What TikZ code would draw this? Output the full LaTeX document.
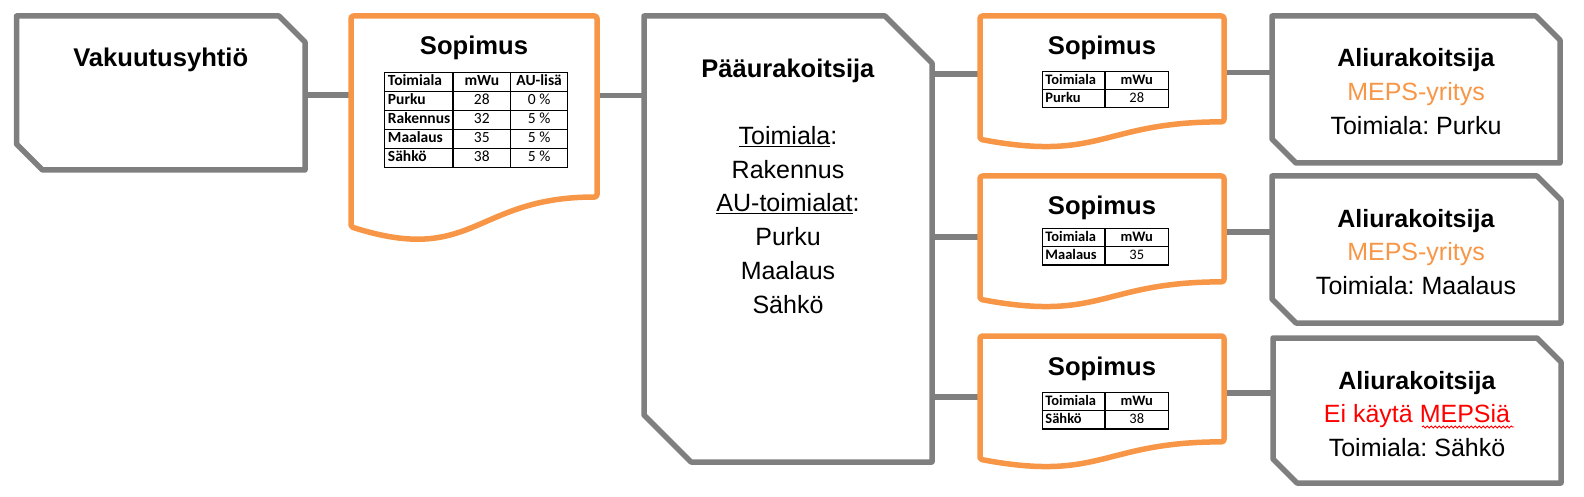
\documentclass[tikz,border=0pt]{standalone}
\usepackage{fontspec}
\setmainfont{Liberation Sans}
\newfontfamily\calibri{Carlito}
\usepackage{array}
\usepackage{xcolor}
\usepackage{tikz}
\usetikzlibrary{calc,decorations.pathmorphing}
\definecolor{MepsGray}{HTML}{7F7F7F}
\definecolor{MepsOrange}{HTML}{F79646}
\definecolor{MepsRed}{HTML}{FF0000}
\frenchspacing
\setlength{\tabcolsep}{2.5pt}
\setlength{\arrayrulewidth}{1.1pt}
\newcolumntype{B}[1]{>{\rule[-5pt]{0pt}{16pt}\bfseries}p{#1}}
\newcolumntype{S}[1]{>{\rule[-4.5pt]{0pt}{14.5pt}\bfseries}p{#1}}
\newcolumntype{C}[1]{>{\centering\arraybackslash}p{#1}}
\tikzset{
  box/.style={draw=none,inner sep=0pt,outer sep=0pt,anchor=north west},
  frame/.style={draw=MepsGray,line width=5.5pt,line join=round},
  docline/.style={draw=MepsOrange,line width=5.5pt,line join=round,rounded corners=2.5pt},
  link/.style={draw=MepsGray,line width=5.5pt},
  squiggle/.style={draw=MepsRed,line width=0.9pt,decorate,decoration={snake,amplitude=1pt,segment length=4pt}},
  head/.style={font=\fontsize{25.6}{33.5}\selectfont\bfseries,anchor=base,inner sep=0pt},
  txt/.style={font=\fontsize{25}{33.75}\selectfont,align=center,anchor=base,inner sep=0pt},
  bigtab/.style={font=\calibri\fontsize{15.5}{18}\selectfont,anchor=north,inner sep=0pt},
  smalltab/.style={font=\calibri\fontsize{14.5}{17}\selectfont,anchor=north,inner sep=0pt}
}
\newcommand\snipframe[2]{%
  \draw[frame] (#1.north west) -- ([xshift=-#2pt]#1.north east) -- ([yshift=-#2pt]#1.north east)
    -- (#1.south east) -- ([xshift=#2pt]#1.south west) -- ([yshift=#2pt]#1.south west) -- cycle;}
\newcommand\docframe[1]{%
  \draw[docline] ($(#1.north west)!0.934!(#1.south west)$) -- (#1.north west) -- (#1.north east)
    -- ($(#1.north east)!0.802!(#1.south east)$)
    .. controls ($(#1.north)!0.802!(#1.south)$) and ($(#1.north)!1.1075!(#1.south)$)
    .. ($(#1.north west)!0.934!(#1.south west)$) -- cycle;}

\begin{document}
\begin{tikzpicture}[x=1pt,y=-1pt]
  \useasboundingbox (0,0) rectangle (1584,497);

  \node[box,minimum width=288.5pt,minimum height=154pt] (vak) at (16.5,16) {};
  \node[box,minimum width=246pt,minimum height=225.7pt] (sop1) at (351,16) {};
  \node[box,minimum width=288pt,minimum height=446pt] (paa) at (644,16) {};
  \node[box,minimum width=244pt,minimum height=132pt] (sop2) at (980,16) {};
  \node[box,minimum width=244pt,minimum height=132pt] (sop3) at (980,176) {};
  \node[box,minimum width=244pt,minimum height=132pt] (sop4) at (980,336) {};
  \node[box,minimum width=288pt,minimum height=147pt] (ali1) at (1272,16) {};
  \node[box,minimum width=289pt,minimum height=147pt] (ali2) at (1272,176) {};
  \node[box,minimum width=288pt,minimum height=145pt] (ali3) at (1273,338) {};

  \draw[link] (vak.east |- 0,95) -- (sop1.west |- 0,95);
  \draw[link] (sop1.east |- 0,95.5) -- (paa.west |- 0,95.5);
  \draw[link] (paa.east |- 0,74) -- (sop2.west |- 0,74);
  \draw[link] (paa.east |- 0,237) -- (sop3.west |- 0,237);
  \draw[link] (paa.east |- 0,397) -- (sop4.west |- 0,397);
  \draw[link] (sop2.east |- 0,72.5) -- (ali1.west |- 0,72.5);
  \draw[link] (sop3.east |- 0,232) -- (ali2.west |- 0,232);
  \draw[link] (sop4.east |- 0,393) -- (ali3.west |- 0,393);

  \snipframe{vak}{26}
  \snipframe{paa}{47}
  \snipframe{ali1}{24}
  \snipframe{ali2}{24}
  \snipframe{ali3}{24}
  \docframe{sop1}
  \docframe{sop2}
  \docframe{sop3}
  \docframe{sop4}

  \node[head] (vakT) at (160.75,66.5) {Vakuutusyhtiö};
  \node[txt] (paaT) at (788,313) {\textbf{\fontsize{25.5}{33.5}\selectfont Pääurakoitsija}\\[33.5pt]\underline{Toimiala}:\\Rakennus\\\underline{AU-toimialat}:\\Purku\\Maalaus\\Sähkö};

  \node[head] (sop1T) at (474,54.5) {Sopimus};
  \node[bigtab] (sop1Tab) at (476.3,71.7) {\begin{tabular}{|B{62pt}|C{51.5pt}|C{51pt}|}\hline
    Toimiala & \textbf{mWu} & \textbf{AU-lisä}\\\hline
    Purku & 28 & 0 \%\\\hline
    Rakennus & 32 & 5 \%\\\hline
    Maalaus & 35 & 5 \%\\\hline
    Sähkö & 38 & 5 \%\\\hline
  \end{tabular}};

  \node[head] (sop2T) at (1102,54.5) {Sopimus};
  \node[smalltab] (sop2Tab) at (1105.5,71) {\begin{tabular}{|S{56.5pt}|C{57.5pt}|}\hline
    Toimiala & \textbf{mWu}\\\hline Purku & 28\\\hline\end{tabular}};
  \node[head] (sop3T) at (1102,214.5) {Sopimus};
  \node[smalltab] (sop3Tab) at (1105.5,228) {\begin{tabular}{|S{56.5pt}|C{57.5pt}|}\hline
    Toimiala & \textbf{mWu}\\\hline Maalaus & 35\\\hline\end{tabular}};
  \node[head] (sop4T) at (1102,375) {Sopimus};
  \node[smalltab] (sop4Tab) at (1105.5,392) {\begin{tabular}{|S{56.5pt}|C{57.5pt}|}\hline
    Toimiala & \textbf{mWu}\\\hline Sähkö & 38\\\hline\end{tabular}};

  \node[txt] (ali1T) at (1416,134.5) {\textbf{Aliurakoitsija}\\\textcolor{MepsOrange}{MEPS-yritys}\\Toimiala: Purku};
  \node[txt] (ali2T) at (1416,294.5) {\textbf{Aliurakoitsija}\\\textcolor{MepsOrange}{MEPS-yritys}\\Toimiala: Maalaus};
  \node[txt] (ali3T) at (1417,456.5) {\textbf{Aliurakoitsija}\\\textcolor{MepsRed}{Ei käytä MEPSiä}\\Toimiala: Sähkö};
  \draw[squiggle] (1422,427) -- (1514,427);
\end{tikzpicture}
\end{document}
